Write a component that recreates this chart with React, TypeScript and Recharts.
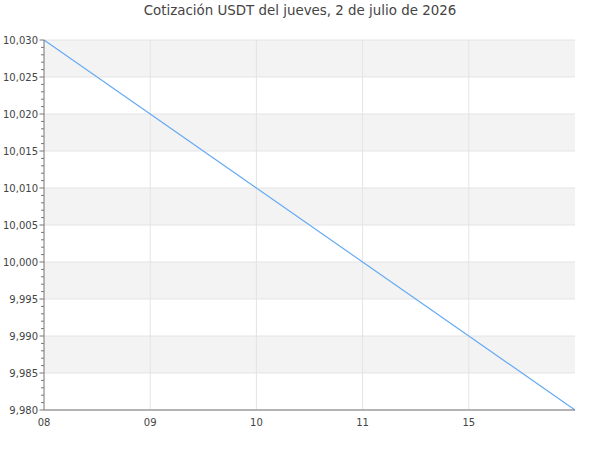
import React from 'react';
import { LineChart, Line, XAxis, YAxis, ReferenceArea, ReferenceLine } from 'recharts';

// Hour labels along the x axis (last point has no label)
const hourLabels = ['08', '09', '10', '11', '15'];
const pointIndex = [0, 1, 2, 3, 4, 5];

// USDT quote at each point
const quoteValues = [10.03, 10.02, 10.01, 10.0, 9.99, 9.98];

// Major y ticks
const majorTicks = [9.98, 9.985, 9.99, 9.995, 10.0, 10.005, 10.01, 10.015, 10.02, 10.025, 10.03];

const chartData = pointIndex.map((i) => ({ idx: i, value: quoteValues[i] }));

// minor ticks: 4 between each pair of majors
const minorTicks: number[] = [];
majorTicks.forEach((m, i) => {
  minorTicks.push(m);
  if (i < majorTicks.length - 1) {
    const step = (majorTicks[i + 1] - m) / 5;
    for (let k = 1; k < 5; k++) minorTicks.push(+(m + step * k).toFixed(4));
  }
});

// alternate grey bands, starting with the top one
const greyBands = majorTicks.slice(0, -1).map((m, i) => [m, majorTicks[i + 1]]).filter((_, i) => i % 2 === 1);

const fmt = (v: number) => v.toFixed(3).replace('.', ',');

const YTick = (props: any) => {
  const { x, y, payload } = props;
  const v = payload.value;
  const isMajor = majorTicks.some((m) => Math.abs(m - v) < 1e-9);
  return (
    <g>
      <line x1={x - (isMajor ? 4.5 : 3)} x2={x} y1={y} y2={y} stroke="#777" />
      {isMajor && (
        <text x={x - 6} y={y} dy={3.5} textAnchor="end" fontSize={10} fill="#444" fontFamily="DejaVu Sans">
          {fmt(v)}
        </text>
      )}
    </g>
  );
};

export default function App() {
  return (
    <div style={{ position: 'absolute', left: 0, top: 0, width: 600, height: 450, background: '#fff' }}>
      <div
        style={{
          position: 'absolute',
          top: 3,
          left: 0,
          width: 600,
          textAlign: 'center',
          fontFamily: 'DejaVu Sans',
          fontSize: 13.4,
          color: '#444'
        }}
      >
        Cotización USDT del jueves, 2 de julio de 2026
      </div>
      <LineChart width={600} height={450} data={chartData} margin={{ top: 40, right: 25, bottom: 10, left: 0 }}>
        {greyBands.map(([a, b], i) => (
          <ReferenceArea key={`band-${i}`} y1={a} y2={b} fill="#f3f3f3" fillOpacity={1} stroke="none" />
        ))}
        {majorTicks.map((m) => (
          <ReferenceLine key={`h-${m}`} y={m} stroke="#e4e4e4" />
        ))}
        {hourLabels.slice(1).map((_, i) => (
          <ReferenceLine key={`v-${i}`} x={i + 1} stroke="#e4e4e4" />
        ))}
        <XAxis
          dataKey="idx"
          type="number"
          domain={[0, 5]}
          ticks={[0, 1, 2, 3, 4]}
          tickFormatter={(i: number) => hourLabels[i] ?? ''}
          tickLine={false}
          tickSize={0}
          tickMargin={9}
          height={30}
          interval={0}
          axisLine={{ stroke: '#777' }}
          tick={{ fontSize: 10, fill: '#444', fontFamily: 'DejaVu Sans' }}
        />
        <YAxis
          type="number"
          domain={[9.98, 10.03]}
          ticks={minorTicks}
          interval={0}
          width={44}
          tickLine={false}
          tickSize={0}
          tickMargin={0}
          axisLine={{ stroke: '#777' }}
          tick={<YTick />}
        />
        <Line
          type="linear"
          dataKey="value"
          stroke="#66aaf5"
          strokeWidth={1.2}
          dot={false}
          isAnimationActive={false}
        />
      </LineChart>
    </div>
  );
}
